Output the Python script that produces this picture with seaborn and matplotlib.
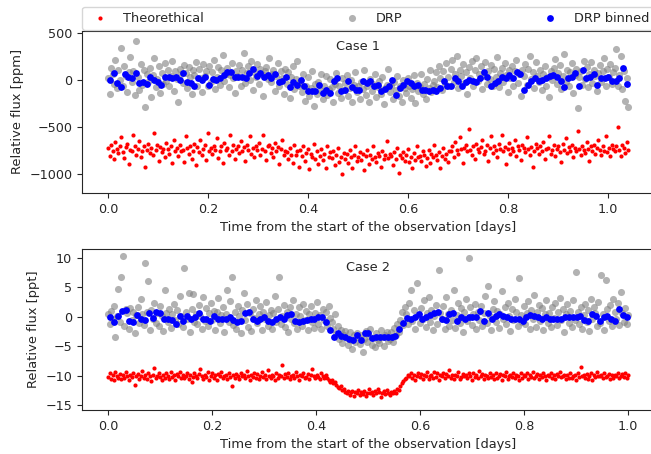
import matplotlib
matplotlib.use('Agg')
import matplotlib.pyplot as plt
import numpy as np
import seaborn as sns
import pandas as pd

# ---- Case 1 (ppm) ----
case1_end = 1.04
theo1 = [
    -720, -805, -690, -760, -845, -655, -735, -780, -700, -610,
    -770, -830, -715, -680, -890, -745, -760, -590, -705, -800,
    -735, -650, -820, -760, -700, -925, -740, -685, -775, -720,
    -800, -560, -745, -690, -860, -710, -770, -735, -815, -665,
    -730, -790, -705, -880, -640, -755, -725, -810, -690, -760,
    -745, -870, -600, -720, -785, -700, -835, -750, -680, -905,
    -715, -770, -640, -800, -730, -690, -855, -560, -760, -720,
    -790, -700, -745, -615, -830, -760, -705, -880, -670, -740,
    -720, -800, -585, -755, -690, -845, -735, -700, -780, -650,
    -760, -710, -865, -690, -745, -600, -790, -725, -815, -700,
    -740, -675, -800, -730, -580, -760, -850, -705, -690, -780,
    -720, -820, -665, -750, -710, -890, -735, -640, -800, -760,
    -770, -840, -720, -800, -880, -690, -795, -760, -925, -745,
    -810, -700, -860, -775, -735, -950, -790, -820, -680, -840,
    -760, -895, -805, -730, -850, -785, -940, -700, -815, -770,
    -830, -760, -905, -800, -720, -870, -815, -1000, -780, -845,
    -790, -880, -740, -820, -930, -800, -705, -860, -815, -770,
    -850, -790, -960, -810, -740, -895, -800, -835, -700, -820,
    -875, -780, -810, -920, -755, -845, -800, -650, -830, -790,
    -810, -900, -765, -840, -720, -985, -800, -825, -770, -860,
    -795, -730, -870, -815, -940, -780, -850, -700, -820, -805,
    -860, -760, -800, -910, -830, -745, -880, -790, -820, -690,
    -800, -850, -770, -935, -810, -720, -840, -790, -875, -760,
    -760, -700, -820, -655, -745, -790, -610, -730, -880, -720,
    -690, -760, -520, -745, -800, -705, -840, -680, -735, -770,
    -715, -640, -790, -750, -690, -860, -725, -600, -775, -700,
    -745, -820, -680, -735, -580, -760, -710, -890, -730, -665,
    -790, -720, -760, -640, -805, -700, -745, -850, -690, -725,
    -770, -610, -735, -800, -710, -925, -750, -680, -720, -785,
    -700, -760, -655, -840, -735, -720, -595, -790, -745, -690,
    -805, -730, -700, -765, -870, -680, -740, -620, -775, -715,
    -750, -690, -820, -720, -760, -540, -735, -800, -700, -745,
    -780, -660, -730, -860, -705, -750, -690, -790, -720, -640,
    -740, -800, -700, -755, -600, -770, -725, -810, -690, -735,
    -760, -700, -500, -745, -810, -690, -720, -775, -660, -740,
]
drp1 = [
    20, -150, 130, 60, -40, 210, -90, 110, 0, 340,
    -70, 150, 40, -130, 80, 240, -20, 90, -160, 410,
    30, -110, 170, -50, 100, -290, 60, -20, 130, -180,
    50, 230, -80, 10, 150, -140, 70, -40, 180, -10,
    110, -60, 40, 200, -120, 90, 10, -240, 120, 60,
    -30, 160, 70, -90, 140, 30, -150, 100, 50, 190,
    -60, 120, 20, -130, 170, 40, 90, -70, 150, -20,
    80, 210, -100, 30, 140, -50, 110, 260, -10, 60,
    130, -80, 50, 180, 20, -140, 90, 40, 160, -60,
    100, 290, -30, 70, 150, 0, 200, -110, 80, 30,
    170, -40, 120, 60, -170, 90, 140, 10, 230, -20,
    60, 110, -120, 40, 180, -60, 90, 20, -150, 120,
    -40, 80, -190, 30, 150, -100, 10, 200, -70, -20,
    -130, 60, -220, -60, 30, -170, -90, 90, -280, -40,
    -150, -20, -110, 60, -200, -70, 40, -160, -100, 10,
    -80, -230, -40, 70, -140, -60, -190, 20, -110, -30,
    50, -170, -90, 0, -240, -50, 80, -130, -70, -200,
    -20, -100, 110, -160, -60, -230, 10, -120, -40, 60,
    -180, -80, -10, -150, 30, -260, -90, -50, 120, -130,
    -60, -200, -20, -110, 40, -170, -70, -230, 0, -90,
    -140, 20, -60, -190, -100, 50, -250, -30, -120, -80,
    60, -150, -40, -200, 10, -90, 100, -130, -50, -10,
    80, -80, 150, 20, -110, 90, -40, 180, 30, -60,
    120, 210, -20, 60, 250, -90, 110, 40, 170, -30,
    80, -150, 140, 20, 200, -60, 100, 230, -10, 60,
    150, -100, 40, 190, -40, 90, 10, 160, -70, 120,
    30, 240, -80, 70, 130, -20, 180, 50, -130, 100,
    20, 150, -60, 90, 210, -30, 60, -170, 110, 40,
    170, -50, 120, 250, 10, 80, -90, 190, 40, -20,
    100, -110, 60, 150, -60, 30, -180, 90, 0, 130,
    220, -40, 70, 160, -100, 40, 270, -20, 110, -60,
    80, 180, -140, 50, 120, -300, 30, 90, -50, 200,
    10, 140, -80, 60, 190, -30, 100, 40, -120, 70,
    160, -20, 90, 230, -70, 120, 30, 170, -40, 80,
    130, 330, -60, 50, 250, -100, 90, -220, 20, -290,
]
binned1 = [
    0, 77, -35, -80, 63, 35, 17, 77, -35, -24,
    -45, 35, 0, -24, -52, 35, 28, 17, 35, 0,
    70, -24, -35, -63, 17, 0, 35, -52, 7, 0,
    17, 52, 87, 80, 35, 35, 35, 24, 70, 115,
    45, 70, 35, 52, 17, 60, -24, -10, 35, -80,
    -24, -52, 0, -70, -115, -122, -115, -52, -140, -105,
    -140, -10, 17, -122, -105, -17, -80, -105, -105, -17,
    -35, -17, -70, -52, -122, -94, -70, 0, -157, -87,
    -52, -17, -35, -70, -52, -105, -105, -122, -105, -122,
    -87, -17, -70, -70, 17, -17, -70, -24, 0, -17,
    -24, 24, 87, 35, -70, -35, -17, 35, 17, 52,
    17, 87, 60, -105, -52, -17, 17, -17, 0, 24,
    45, 52, 35, -17, -80, 17, 35, 70, -70, 105,
    17, 35, 60, -52, 17, 24, 35, -17, -17, 17,
    122, -45,
]

# ---- Case 2 (ppt) ----
case2_end = 1.0
theo2 = [
    -10.2, -9.6, -10.5, -9.9, -10.8, -9.4, -10.1, -10.3, -9.7, -10.6,
    -9.8, -10.4, -9.3, -10.0, -10.7, -9.9, -10.2, -9.5, -11.6, -10.1,
    -9.7, -10.5, -10.0, -9.2, -10.3, -9.8, -10.6, -9.6, -10.1, -10.9,
    -9.9, -8.7, -10.4, -10.0, -9.5, -10.2, -10.7, -9.8, -10.3, -9.6,
    -10.0, -10.5, -9.4, -10.2, -9.9, -10.8, -9.7, -10.1, -9.3, -10.4,
    -9.8, -10.3, -10.0, -9.6, -10.6, -9.9, -11.0, -10.2, -9.5, -10.1,
    -10.4, -9.7, -8.9, -10.0, -10.5, -9.8, -10.2, -9.4, -10.7, -10.0,
    -9.6, -10.3, -9.9, -10.8, -9.7, -10.1, -9.3, -10.4, -10.0, -9.8,
    -10.6, -9.5, -10.2, -11.8, -9.9, -10.3, -9.7, -10.0, -10.5, -9.6,
    -10.1, -9.8, -10.4, -9.2, -10.0, -10.7, -9.9, -10.2, -9.5, -10.3,
    -9.7, -10.6, -10.0, -9.4, -10.2, -9.9, -10.5, -9.1, -10.1, -10.4,
    -9.8, -10.0, -10.7, -9.6, -10.3, -9.9, -10.1, -8.2, -10.4, -9.7,
    -10.2, -9.5, -10.6, -10.0, -9.8, -10.3, -9.4, -10.1, -10.8, -9.9,
    -10.0, -9.6, -10.4, -10.2, -9.7, -10.5, -9.9, -8.8, -10.1, -10.3,
    -9.8, -10.2, -10.6, -9.5, -10.0, -10.4, -9.9, -10.3, -10.7, -11.0,
    -10.8, -11.2, -11.0, -11.5, -11.9, -12.1, -11.7, -12.4, -12.2, -12.7,
    -12.9, -12.5, -13.2, -12.8, -12.6, -13.4, -12.7, -13.0, -12.4, -13.3,
    -12.8, -13.1, -12.6, -13.5, -12.9, -12.3, -13.0, -12.7, -13.3, -12.5,
    -13.0, -12.2, -12.8, -13.6, -12.9, -12.6, -13.1, -12.4, -12.9, -13.2,
    -12.7, -13.0, -12.5, -12.9, -12.2, -12.4, -11.8, -11.3, -10.9, -10.6,
    -10.3, -9.9, -10.1, -9.6, -10.4, -9.8, -10.7, -10.0, -9.5, -10.2,
    -9.7, -10.5, -9.9, -10.1, -9.3, -10.6, -10.0, -9.8, -10.3, -9.4,
    -10.2, -9.6, -10.8, -9.9, -10.1, -9.5, -10.4, -9.7, -10.0, -9.1,
    -10.3, -9.8, -10.5, -9.9, -10.0, -9.4, -10.6, -10.2, -9.7, -10.1,
    -9.8, -10.4, -9.6, -10.0, -10.7, -9.5, -10.2, -9.9, -10.3, -9.2,
    -10.1, -9.7, -10.5, -9.8, -10.0, -10.4, -9.6, -10.2, -9.9, -10.6,
    -9.5, -10.3, -10.0, -9.7, -10.8, -9.9, -10.1, -9.4, -10.5, -10.0,
    -9.8, -10.2, -9.6, -10.4, -9.9, -10.0, -10.7, -9.5, -10.3, -9.8,
    -10.1, -9.6, -10.5, -9.9, -10.2, -9.3, -10.4, -10.0, -9.7, -10.6,
    -9.9, -10.2, -9.5, -10.1, -10.8, -9.8, -10.0, -9.6, -10.3, -9.9,
    -10.5, -9.7, -10.1, -9.4, -10.2, -10.0, -9.8, -10.6, -9.9, -10.3,
    -9.6, -10.4, -10.0, -9.8, -10.7, -9.5, -10.2, -8.5, -10.1, -9.9,
    -10.3, -9.7, -10.5, -10.0, -9.6, -10.8, -9.9, -10.2, -9.4, -10.1,
    -10.0, -9.8, -10.4, -9.6, -10.2, -10.0, -9.7, -10.5, -9.9, -10.3,
    -9.8, -10.1, -9.5, -10.4, -10.0, -9.7, -10.2, -9.6, -10.3, -9.9,
]
drp2 = [
    0.5, -1.2, 1.0, -0.4, 1.8, -3.5, 0.2, 4.8, -0.9, 6.8,
    10.3, -1.5, 1.3, 0.6, -2.0, 1.5, -0.6, 0.9, -2.7, 0.3,
    1.6, -1.0, 3.0, 0.4, -1.4, 9.2, 0.8, 6.0, -2.2, 1.1,
    -0.3, 2.4, -1.1, 0.7, -1.6, 1.9, 0.1, -2.4, 4.5, 0.6,
    -0.8, 1.4, -1.9, 0.5, 2.2, -0.5, 1.2, -1.3, 3.5, 0.2,
    -1.7, 8.2, 0.9, -0.4, 4.0, -2.6, 1.3, 3.8, -0.9, 0.4,
    -1.2, 2.0, 0.1, -2.1, 3.3, -0.7, 1.5, -1.5, 0.6, 2.3,
    -0.5, 1.0, -2.3, 0.8, 3.2, -1.0, 0.3, 1.7, -2.6, 0.5,
    4.5, -0.8, 2.6, 6.8, -1.4, 0.9, -2.0, 1.8, 0.2, -2.8,
    1.2, 4.0, -0.6, 2.1, -1.8, 0.7, -2.4, 1.4, -0.2, 2.8,
    -1.1, 0.5, 1.9, -2.2, 0.9, -0.4, 2.5, -1.6, 0.3, 1.1,
    -2.0, 0.6, 3.6, -0.9, 1.3, 6.8, -1.3, 0.2, 2.0, -1.8,
    0.8, -2.5, 1.6, -0.3, 2.9, -1.1, 0.4, -2.0, 1.7, 0.1,
    -1.5, 2.2, -0.6, 1.0, -2.3, 0.5, 1.9, -0.8, -1.9, 0.7,
    2.5, -1.2, 0.3, -2.1, 1.4, -0.5, 0.9, -1.6, 1.8, -0.2,
    -0.8, -2.0, 0.5, -2.9, -1.6, -3.8, -2.2, -4.5, -3.0, -2.4,
    -3.6, -4.8, -2.5, -3.9, -5.4, -3.1, -4.2, -2.7, -3.5, -4.6,
    -3.0, -5.9, -3.8, -2.4, -4.3, -3.3, -2.1, -4.7, -3.6, -5.1,
    -2.8, -3.9, -4.4, -2.3, -3.4, -5.0, -3.1, -2.6, -4.1, -3.7,
    -2.5, -4.2, -1.9, -3.0, -1.2, -2.6, -0.5, 0.8, -1.4, 1.7,
    0.4, -1.3, 2.3, 4.5, -0.7, 1.1, -2.0, 5.8, 0.3, -1.1,
    1.5, -0.4, 2.8, -1.7, 0.6, 3.3, -0.9, 1.2, -2.3, 0.2,
    2.0, -1.2, 8.0, 0.7, -0.3, 1.9, -2.1, 3.4, 0.5, -1.5,
    1.1, -0.6, 4.6, -1.9, 0.3, 2.4, -1.0, 1.5, -2.6, 0.8,
    3.1, -0.7, 10.0, 1.6, -1.4, 0.4, 2.2, -2.0, 0.9, -0.5,
    1.8, -1.6, 0.6, 3.6, -1.0, 5.2, 0.1, -2.2, 1.3, 2.7,
    -0.8, 1.0, -1.9, 0.5, 4.4, -0.3, 1.7, -1.2, 2.3, 0.2,
    -2.4, 1.4, -0.6, 3.0, 0.8, -1.5, 6.5, 0.3, -0.9, 1.9,
    -1.3, 0.6, 2.6, -2.1, 1.1, -0.4, 3.7, -1.7, 0.9, 2.0,
    -0.7, 1.5, -2.3, 0.4, 2.8, -1.1, 0.7, -1.8, 1.6, -0.2,
    2.4, -1.4, 0.9, 3.2, -0.6, 1.3, -2.5, 0.5, 2.1, -1.0,
    1.0, -1.8, 2.9, -0.5, 7.6, 0.8, -1.3, 1.6, -2.0, 0.3,
    2.2, -0.9, 1.2, -2.4, 3.1, -0.4, 1.7, 0.6, -1.6, 2.5,
    -1.1, 7.1, 0.4, -2.2, 6.3, 1.4, -0.7, 2.0, -1.5, 3.0,
    0.9, -0.3, 2.4, -1.4, 4.2, 0.7, -0.8, 1.5, -1.2, 0.3,
]
binned2 = [
    0, -0.85, 0.2, 1.0, 1.1, -0.7, -0.8, 0.3, -0.3, -0.6,
    0.7, -0.2, 0.85, 0.6, -0.3, -0.3, -0.5, -1.25, 0.2, -0.7,
    0.2, -0.4, 0.05, 0.6, -0.3, -0.4, -0.7, 0.2, -0.4, -0.3,
    -0.3, -0.1, -0.5, -0.85, -0.7, 0.6, 0.85, -0.4, -0.7, -0.4,
    0.05, -0.7, -0.85, -0.3, 0.0, -0.3, 0.3, 0.45, -0.7, -0.85,
    -0.7, -0.5, -0.4, -0.3, -0.1, 0.05, -0.85, -2.2, -3.5, -2.8,
    -3.2, -3.5, -3.7, -4.0, -3.1, -3.9, -2.7, -2.8, -3.6, -3.5,
    -3.5, -3.5, -3.4, -3.35, -3.2, -2.0, -1.1, -0.2, -0.3, -0.1,
    0.45, -0.4, 0.0, 0.3, 0.6, 0.85, -0.3, -0.6, 0.45, 0.6,
    -0.7, -0.1, -0.4, -0.1, 0.0, -0.1, 1.0, -0.7, 0.6, -0.4,
    0.2, 0.45, 0.2, -0.1, -0.4, -0.4, -0.4, -0.7, -0.1, 0.3,
    0.2, -0.1, -0.4, -0.1, -0.3, -0.4, -0.4, -0.3, -0.1, 0.05,
    -0.1, 0.05, 0.2, -0.6, -0.7, 0.45, 0.2, -0.7, -0.1, 0.2,
    -0.3, -0.7, 1.4, 0.3, -0.1,
]

sns.set_style("ticks")
plt.rcParams['font.family'] = ['DejaVu Sans']
plt.rcParams['xtick.labelsize'] = 9.2
plt.rcParams['ytick.labelsize'] = 9.2
plt.rcParams['axes.labelsize'] = 9.4


def panel(ax, t_end, theo, drp, binned, ylabel, case, case_y):
    t_raw = np.linspace(0, t_end, len(theo))
    t_bin = np.linspace(0.004, t_end - 0.003, len(binned))
    df = pd.DataFrame({'time': t_raw, 'theo': theo, 'drp': drp})
    dfb = pd.DataFrame({'time': t_bin, 'flux': binned})
    sns.scatterplot(data=df, x='time', y='theo', ax=ax, color='red', s=9,
                    linewidth=0, label='Theorethical', legend=False, zorder=3)
    sns.scatterplot(data=df, x='time', y='drp', ax=ax, color='gray', s=26,
                    alpha=0.6, linewidth=0, label='DRP', legend=False, zorder=2)
    sns.scatterplot(data=dfb, x='time', y='flux', ax=ax, color='blue', s=24,
                    linewidth=0, label='DRP binned', legend=False, zorder=4)
    ax.set_xlabel('Time from the start of the observation [days]')
    ax.set_ylabel(ylabel)
    ax.text(0.5, case_y, case, ha='center', va='center', fontsize=9.3)


fig = plt.figure(figsize=(6.51, 4.54), dpi=100)
ax1 = fig.add_axes([0.126, 0.575, 0.879, 0.357])
ax2 = fig.add_axes([0.126, 0.097, 0.879, 0.3545])

panel(ax1, case1_end, theo1, drp1, binned1, 'Relative flux [ppm]', 'Case 1', 350)
ax1.set_xlim(-0.052, 1.092)
ax1.set_ylim(-1200, 520)
ax1.set_yticks([-1000, -500, 0, 500])
ax1.set_xticks([0.0, 0.2, 0.4, 0.6, 0.8, 1.0])

panel(ax2, case2_end, theo2, drp2, binned2, 'Relative flux [ppt]', 'Case 2', 8.3)
ax2.set_xlim(-0.05, 1.05)
ax2.set_ylim(-15.8, 11.5)
ax2.set_yticks([-15, -10, -5, 0, 5, 10])
ax2.set_xticks([0.0, 0.2, 0.4, 0.6, 0.8, 1.0])

handles, labels = ax1.get_legend_handles_labels()
fig.legend(handles, labels, loc='lower left', ncol=3, mode='expand',
           bbox_to_anchor=(0.126, 0.934, 0.879, 0.054), borderaxespad=0,
           fontsize=9.3, frameon=True)

fig.savefig('out.png', dpi=100)
